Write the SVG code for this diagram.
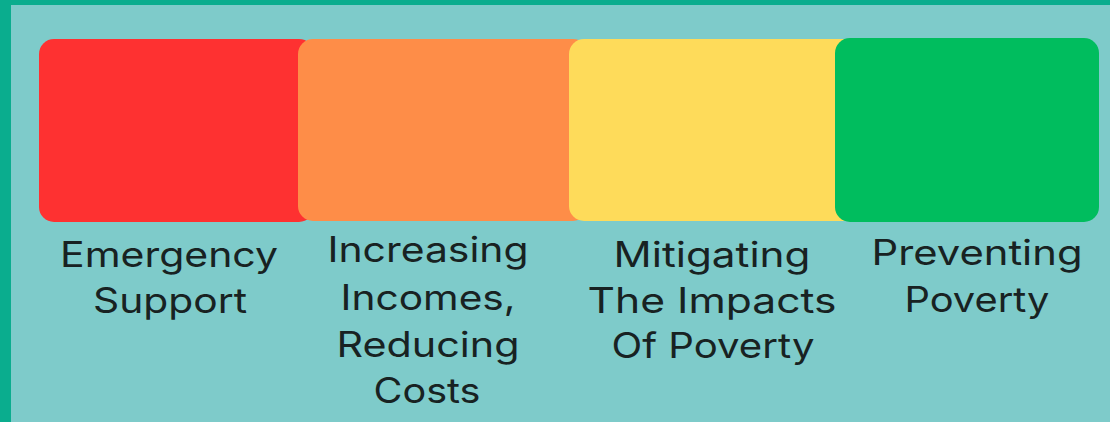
<svg xmlns="http://www.w3.org/2000/svg" width="1110" height="422" viewBox="0 0 1110 422">
<style>
.lbl{font-family:Inter,"Noto Sans","Liberation Sans",sans-serif;font-size:35px;fill:#182222;text-anchor:middle}
</style>
<rect x="0" y="0" width="1110" height="422" fill="#0aad8e"/>
<rect x="11" y="5" width="1099" height="417" fill="#7ecbca"/>
<g id="emergency">
<rect x="39" y="39" width="275" height="183" rx="15" fill="#fe3131"/>
</g>
<g id="increasing">
<rect x="298" y="39" width="290" height="182" rx="15" fill="#fe8d48"/>
</g>
<g id="mitigating">
<rect x="569" y="39" width="290" height="182" rx="15" fill="#fedb5a"/>
</g>
<g id="preventing">
<rect x="835" y="38" width="264" height="184" rx="15" fill="#00bd5e"/>
</g>
<g id="labels">
<text class="lbl" x="169" y="267" textLength="218" lengthAdjust="spacingAndGlyphs">Emergency</text>
<text class="lbl" x="170" y="313" textLength="154" lengthAdjust="spacingAndGlyphs">Support</text>
<text class="lbl" x="428" y="262" textLength="201" lengthAdjust="spacingAndGlyphs">Increasing</text>
<text class="lbl" x="428" y="310" textLength="175" lengthAdjust="spacingAndGlyphs">Incomes,</text>
<text class="lbl" x="428" y="357" textLength="183" lengthAdjust="spacingAndGlyphs">Reducing</text>
<text class="lbl" x="427" y="403" textLength="107" lengthAdjust="spacingAndGlyphs">Costs</text>
<text class="lbl" x="712" y="267" textLength="197" lengthAdjust="spacingAndGlyphs">Mitigating</text>
<text class="lbl" x="712" y="313" textLength="249" lengthAdjust="spacingAndGlyphs">The Impacts</text>
<text class="lbl" x="713" y="358" textLength="203" lengthAdjust="spacingAndGlyphs">Of Poverty</text>
<text class="lbl" x="977" y="265" textLength="211" lengthAdjust="spacingAndGlyphs">Preventing</text>
<text class="lbl" x="977" y="312" textLength="145" lengthAdjust="spacingAndGlyphs">Poverty</text>
</g>
</svg>
